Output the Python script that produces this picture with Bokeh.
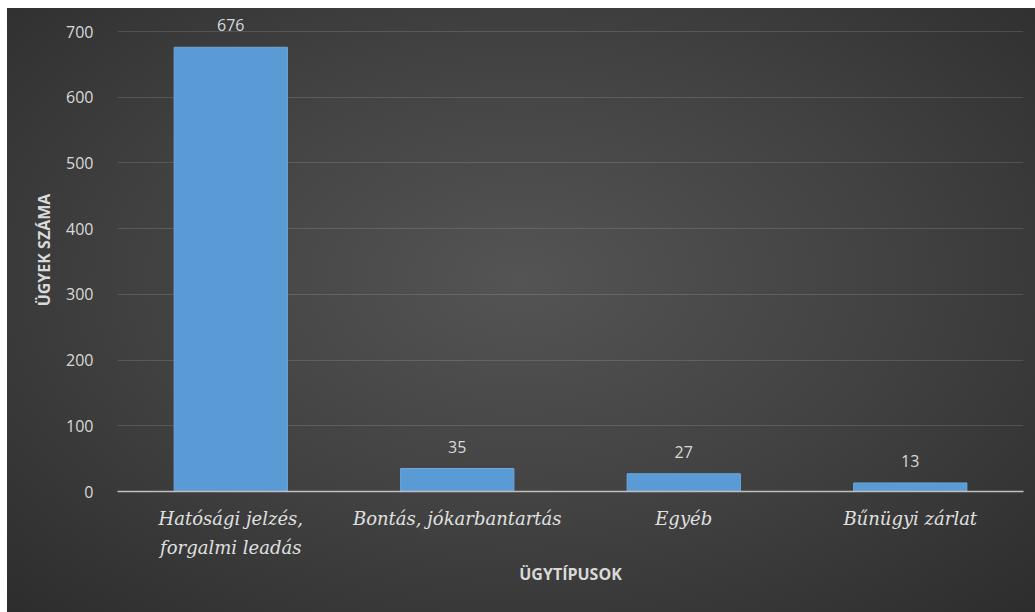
from bokeh.plotting import figure
from bokeh.models import ColumnDataSource, FixedTicker, LabelSet, Range1d
from bokeh.core.properties import value
from bokeh.embed import file_html
from bokeh.resources import INLINE

categories = ["Hatósági jelzés,\nforgalmi leadás", "Bontás, jókarbantartás", "Egyéb", "Bűnügyi zárlat"]
values = [676, 35, 27, 13]
y_ticks = [0, 100, 200, 300, 400, 500, 600, 700]

source = ColumnDataSource(dict(cat=categories, val=values, lab=[str(v) for v in values]))

p = figure(x_range=categories, y_range=Range1d(0, 735), width=1028, height=604,
           output_backend="svg", toolbar_location=None,
           min_border_left=110, min_border_right=12, min_border_top=0, min_border_bottom=121)
p.margin = (8, 0, 0, 7)
p.styles = {"background": "radial-gradient(ellipse 75% 80% at 50% 45%, #545454 0%, #414141 50%, #2b2b2b 100%)"}
p.background_fill_alpha = 0
p.border_fill_alpha = 0
p.outline_line_color = None

p.vbar(x="cat", top="val", width=0.5, source=source, fill_color="#5b9bd5", line_color="#6aa8e0", line_width=1)

labels = LabelSet(x="cat", y="val", text="lab", source=source, y_offset=22,
                  text_align="center", text_baseline="middle", text_color="#d9d9d9",
                  text_font=value("Open Sans"), text_font_size="16px")
p.add_layout(labels)

p.yaxis.ticker = FixedTicker(ticks=y_ticks)
p.yaxis.axis_line_color = None
p.yaxis.major_tick_line_color = None
p.yaxis.minor_tick_line_color = None
p.yaxis.major_label_text_color = "#d9d9d9"
p.yaxis.major_label_text_font = "Open Sans"
p.yaxis.major_label_text_font_size = "16px"
p.yaxis.major_label_standoff = 18
p.yaxis.axis_label = "ÜGYEK SZÁMA"
p.yaxis.axis_label_text_color = "#d9d9d9"
p.yaxis.axis_label_text_font = "Open Sans"
p.yaxis.axis_label_text_font_style = "bold"
p.yaxis.axis_label_text_font_size = "16px"
p.yaxis.axis_label_standoff = 8

p.xaxis.axis_line_color = "#bfbfbf"
p.xaxis.axis_line_width = 1.5
p.xaxis.major_tick_line_color = None
p.xaxis.minor_tick_line_color = None
p.xaxis.major_label_text_color = "#e0e0e0"
p.xaxis.major_label_text_font = "DejaVu Serif"
p.xaxis.major_label_text_font_style = "italic"
p.xaxis.major_label_text_font_size = "18px"
p.xaxis.major_label_text_line_height = 1.4
p.xaxis.major_label_standoff = 10
p.xaxis.axis_label = "ÜGYTÍPUSOK"
p.xaxis.axis_label_text_color = "#d9d9d9"
p.xaxis.axis_label_text_font = "Open Sans"
p.xaxis.axis_label_text_font_style = "bold"
p.xaxis.axis_label_text_font_size = "16px"
p.xaxis.axis_label_standoff = 2

p.xgrid.grid_line_color = None
p.ygrid.grid_line_color = "#ffffff"
p.ygrid.grid_line_alpha = 0.13
p.ygrid.grid_line_width = 1

open("out.html", "w").write(file_html(p, INLINE))
